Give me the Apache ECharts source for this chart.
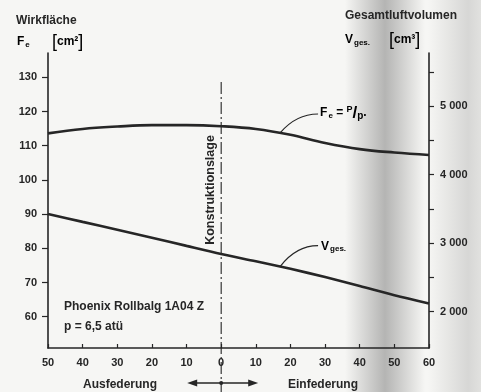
<!DOCTYPE html>
<html>
<head>
<meta charset="utf-8">
<script src="https://cdn.jsdelivr.net/npm/echarts@6/dist/echarts.min.js"></script>
<style>
  html, body { margin: 0; padding: 0; background: #f6f6f4; }
  #chart { width: 481px; height: 392px; }
</style>
</head>
<body>
<div id="chart"></div>
<script>
// Federweg in mm (negativ = Ausfederung, positiv = Einfederung)
const federweg = [-50, -40, -30, -20, -10, 0, 10, 20, 30, 40, 50, 60];
// Wirkfläche Fe [cm²]
const wirkflaeche = [113.6, 114.9, 115.6, 116.0, 116.0, 115.7, 114.9, 113.2, 110.8, 109.0, 108.0, 107.3];
// Gesamtluftvolumen Vges [cm³]
const luftvolumen = [3426, 3310, 3195, 3080, 2960, 2842, 2735, 2625, 2505, 2375, 2240, 2120];

const leftTicks = [60, 70, 80, 90, 100, 110, 120, 130];
const rightTicks = [2000, 2500, 3000, 3500, 4000, 4500, 5000, 5500];
const rightLabels = [2000, 3000, 4000, 5000];

const ink = '#262626';
const font = 'Liberation Sans';

let myChart = echarts.init(document.getElementById('chart'));

const pair = (xs, ys) => xs.map((x, i) => [x, ys[i]]);
const interp = (xs, ys, x) => {
  for (let i = 0; i < xs.length - 1; i++) {
    if (x >= xs[i] && x <= xs[i + 1]) {
      let t = (x - xs[i]) / (xs[i + 1] - xs[i]);
      return ys[i] + t * (ys[i + 1] - ys[i]);
    }
  }
  return ys[ys.length - 1];
};

const labelStyle = { color: ink, fontFamily: font, fontWeight: 'bold', fontSize: 11 };

myChart.setOption({
  backgroundColor: '#f6f6f4',
  animation: false,
  grid: { left: 48, right: 52, top: 53, bottom: 44 },
  xAxis: {
    type: 'value',
    min: -50,
    max: 60,
    interval: 10,
    axisLine: { onZero: false, lineStyle: { color: ink, width: 1.6 } },
    axisTick: { inside: true, length: 4, lineStyle: { color: ink, width: 1.2 } },
    axisLabel: Object.assign({ margin: 9, formatter: (v) => String(Math.abs(v)) }, labelStyle),
    splitLine: { show: false }
  },
  yAxis: [
    {
      type: 'value',
      position: 'left',
      min: 50.85,
      max: 137.1,
      axisLine: { show: true, onZero: false, lineStyle: { color: ink, width: 1.6 } },
      axisTick: { show: true, length: 6, customValues: leftTicks, lineStyle: { color: ink, width: 1.2 } },
      axisLabel: Object.assign({ margin: 11, customValues: leftTicks }, labelStyle),
      splitLine: { show: false }
    },
    {
      type: 'value',
      position: 'right',
      min: 1470,
      max: 5774,
      axisLine: { show: true, onZero: false, lineStyle: { color: ink, width: 1.6 } },
      axisTick: { show: true, length: 5, customValues: rightTicks, lineStyle: { color: ink, width: 1.2 } },
      axisLabel: Object.assign({
        margin: 11,
        customValues: rightLabels,
        formatter: (v) => String(v).replace(/(\d)(\d{3})$/, '$1 $2')
      }, labelStyle),
      splitLine: { show: false }
    }
  ],
  series: [
    {
      name: 'Fe',
      type: 'line',
      yAxisIndex: 0,
      smooth: 0.4,
      symbol: 'none',
      z: 5,
      lineStyle: { color: ink, width: 2.6 },
      data: pair(federweg, wirkflaeche)
    },
    {
      name: 'Vges',
      type: 'line',
      yAxisIndex: 1,
      smooth: 0.3,
      symbol: 'none',
      z: 5,
      lineStyle: { color: ink, width: 2.6 },
      data: pair(federweg, luftvolumen)
    }
  ]
});

// Beschriftungen und Hilfslinien, Lage aus den Achsen des Diagramms
let x0 = myChart.convertToPixel({ xAxisIndex: 0 }, 0);
let fePt = myChart.convertToPixel({ seriesIndex: 0 }, [17, interp(federweg, wirkflaeche, 17)]);
let vPt = myChart.convertToPixel({ seriesIndex: 1 }, [17, interp(federweg, luftvolumen, 17)]);

const txt = (x, y, text, extra) => ({
  type: 'text',
  x: x,
  y: y,
  z: 20,
  style: Object.assign({
    text: text,
    fill: ink,
    font: 'bold 12px "' + font + '"',
    verticalAlign: 'middle'
  }, extra || {})
});

const rich = {
  b: { fontFamily: font, fontWeight: 'bold', fontSize: 12, color: ink, lineHeight: 18 },
  s: { fontFamily: font, fontWeight: 'bold', fontSize: 8, color: ink, padding: [5, 0, 0, 1] },
  br: { fontFamily: font, fontWeight: 'normal', fontSize: 18, color: ink, lineHeight: 18 },
  up: { fontFamily: font, fontWeight: 'bold', fontSize: 9, color: ink, padding: [0, 0, 7, 0] },
  sl: { fontFamily: font, fontWeight: 'bold', fontSize: 17, color: ink, lineHeight: 18 },
  dn: { fontFamily: font, fontWeight: 'bold', fontSize: 10, color: ink, padding: [6, 0, 0, 0] }
};
const richTxt = (x, y, text) => ({
  type: 'text', x: x, y: y, z: 20,
  style: { text: text, rich: rich, verticalAlign: 'middle' }
});

const band = (x, w, a) => ({
  type: 'rect',
  z: -10,
  silent: true,
  shape: { x: x, y: 0, width: w, height: 392 },
  style: {
    fill: new echarts.graphic.LinearGradient(0, 0, 1, 0, [
      { offset: 0, color: 'rgba(90,90,90,0)' },
      { offset: 0.5, color: 'rgba(90,90,90,' + a + ')' },
      { offset: 1, color: 'rgba(90,90,90,0)' }
    ])
  }
});

myChart.setOption({
  graphic: [
    band(345, 80, 0.42),
    band(428, 80, 0.2),
    // Konstruktionslage
    {
      type: 'line', z: 10, silent: true,
      shape: { x1: x0, y1: 82, x2: x0, y2: 392 },
      style: { stroke: ink, lineWidth: 1.1, lineDash: [12, 3, 2, 3] }
    },
    {
      type: 'text', z: 20, x: 211, y: 190, rotation: Math.PI / 2,
      style: { text: 'Konstruktionslage', fill: ink, font: 'bold 12.5px "' + font + '"', align: 'center', verticalAlign: 'middle' }
    },
    // Pfeil Aus-/Einfederung
    {
      type: 'line', z: 10, silent: true,
      shape: { x1: x0 - 30, y1: 383, x2: x0 + 33, y2: 383 },
      style: { stroke: ink, lineWidth: 1.4 }
    },
    {
      type: 'polygon', z: 10, silent: true,
      shape: { points: [[x0 - 34, 383], [x0 - 24, 379.5], [x0 - 24, 386.5]] },
      style: { fill: ink }
    },
    {
      type: 'polygon', z: 10, silent: true,
      shape: { points: [[x0 + 37, 383], [x0 + 27, 379.5], [x0 + 27, 386.5]] },
      style: { fill: ink }
    },
    {
      type: 'circle', z: 10, silent: true,
      shape: { cx: x0, cy: 383, r: 2 },
      style: { fill: ink }
    },
    txt(120, 385, 'Ausfederung', { align: 'center' }),
    txt(323, 385, 'Einfederung', { align: 'center' }),
    // Achsentitel
    txt(16, 21, 'Wirkfläche'),
    richTxt(17, 42, '{b|F}{s|e}'),
    richTxt(52, 42, '{br|[}{b|cm²}{br|]}'),
    txt(345, 16, 'Gesamtluftvolumen'),
    richTxt(345, 40, '{b|V}{s|ges.}'),
    richTxt(389, 40, '{br|[}{b|cm³}{br|]}'),
    // Kurvenbeschriftung
    {
      type: 'bezierCurve', z: 10, silent: true,
      shape: { x1: fePt[0], y1: fePt[1], x2: fePt[0] + 38, y2: fePt[1] - 19, cpx1: fePt[0] + 16, cpy1: fePt[1] - 19 },
      style: { stroke: ink, lineWidth: 1.2, fill: null }
    },
    richTxt(fePt[0] + 40, fePt[1] - 20, '{b|F}{s|e}{b| = }{up|P}{sl|/}{dn|p}{b|.}'),
    {
      type: 'bezierCurve', z: 10, silent: true,
      shape: { x1: vPt[0], y1: vPt[1], x2: vPt[0] + 38, y2: vPt[1] - 21, cpx1: vPt[0] + 16, cpy1: vPt[1] - 21 },
      style: { stroke: ink, lineWidth: 1.2, fill: null }
    },
    richTxt(vPt[0] + 41, vPt[1] - 20, '{b|V}{s|ges.}'),
    // Bauart
    txt(64, 307, 'Phoenix Rollbalg 1A04 Z'),
    txt(64, 327, 'p = 6,5 atü')
  ]
});

window.addEventListener('resize', () => {
  myChart.resize();
});
</script>
</body>
</html>
